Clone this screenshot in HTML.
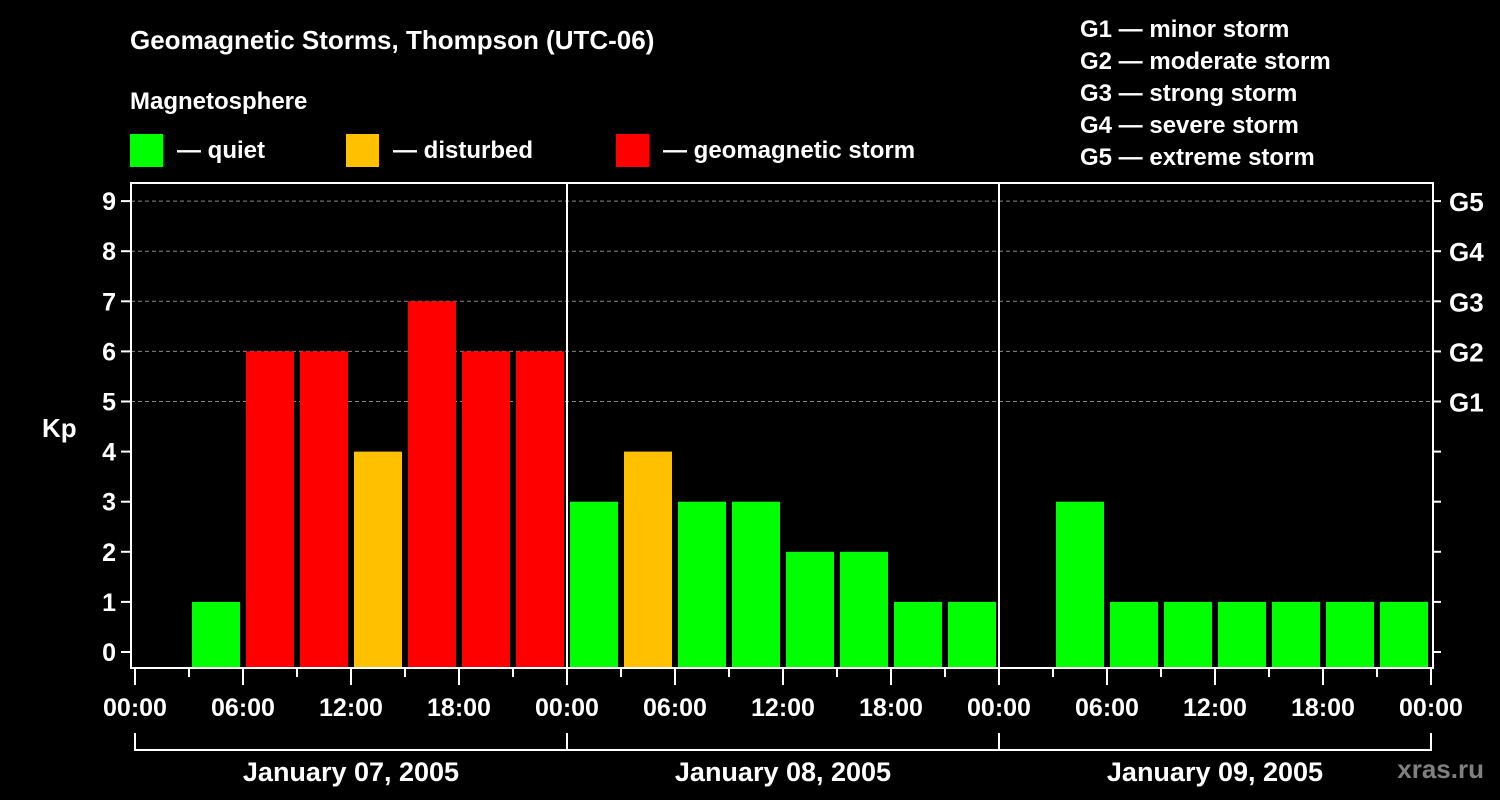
<!DOCTYPE html>
<html><head><meta charset="utf-8">
<style>
html,body{margin:0;padding:0;background:#000;width:1500px;height:800px;overflow:hidden}
svg text{font-family:"Liberation Sans",Arial,sans-serif;font-weight:bold;fill:#fff}
</style></head>
<body>
<svg id="c" width="1500" height="800" xmlns="http://www.w3.org/2000/svg">
<text x="130" y="49" font-size="26">Geomagnetic Storms, Thompson (UTC-06)</text>
<text x="130" y="109" font-size="24">Magnetosphere</text>
<rect x="130" y="134" width="33" height="33" fill="#00ff00"/>
<text x="177" y="158" font-size="24">— quiet</text>
<rect x="346" y="134" width="33" height="33" fill="#ffc000"/>
<text x="393" y="158" font-size="24">— disturbed</text>
<rect x="616" y="134" width="33" height="33" fill="#ff0000"/>
<text x="663" y="158" font-size="24">— geomagnetic storm</text>
<g font-size="24">
<text x="1080" y="37">G1 — minor storm</text>
<text x="1080" y="69">G2 — moderate storm</text>
<text x="1080" y="101">G3 — strong storm</text>
<text x="1080" y="133">G4 — severe storm</text>
<text x="1080" y="165">G5 — extreme storm</text>
</g>
<text x="42" y="437" font-size="26">Kp</text>
<text x="1484" y="778" font-size="26" fill="#808080" style="fill:#808080" text-anchor="end">xras.ru</text>
<g id="grid"></g><g id="bars"></g><g id="axes"></g>
</svg>
<script>
const days = ["January 07, 2005","January 08, 2005","January 09, 2005"];
const day1 = [0,1,6,6,4,7,6,6];
const day2 = [3,4,3,3,2,2,1,1];
const day3 = [0,3,1,1,1,1,1,1];
const yTicks = [0,1,2,3,4,5,6,7,8,9];
const gLabels = ["G1","G2","G3","G4","G5"];
const xLabels = ["00:00","06:00","12:00","18:00","00:00","06:00","12:00","18:00","00:00","06:00","12:00","18:00","00:00"];

const NS="http://www.w3.org/2000/svg";
const svg=document.getElementById('c');
const X0=135, DAYW=432, L=131, R=1433, T=183, B=668;
const xH=h=>X0+h*DAYW/24;
const yV=v=>652-v*50.1;
function mk(tag,attrs,parent){const e=document.createElementNS(NS,tag);for(const k in attrs)e.setAttribute(k,attrs[k]);parent.appendChild(e);return e;}
const grid=document.getElementById('grid'),bars=document.getElementById('bars'),axes=document.getElementById('axes');

// gridlines and y ticks
yTicks.forEach(v=>{
  const y=yV(v);
  if(v>=5){const l=mk('line',{x1:L,x2:R,y1:y,y2:y,stroke:'#888','stroke-dasharray':'4,3','stroke-width':1},grid);
    
    }
  const t=mk('line',{x1:L-10,x2:L,y1:y,y2:y,stroke:'#fff','stroke-width':2},axes);
  
  
  const tt=mk('line',{x1:R,x2:R+8,y1:y,y2:y,stroke:'#fff','stroke-width':2},axes);
  
  
  const lab=mk('text',{x:L-15,y:y+9,'font-size':25,'text-anchor':'end'},axes);
  lab.textContent=v;
  
  
});
gLabels.forEach((g,i)=>{
  const lab=mk('text',{x:R+16,y:yV(5+i)+10,'font-size':26},axes);
  lab.textContent=g;
  
  
});

// bars
[day1,day2,day3].forEach((arr,d)=>{
  arr.forEach((v,i)=>{
    if(v<=0)return;
    const h=d*24+i*3;
    const col=v>=5?'#ff0000':(v>=4?'#ffc000':'#00ff00');
    const y=yV(v);
    const r=mk('rect',{x:xH(h)+3,y:y,width:48,height:B-y,fill:col},bars);
    
    
  });
});

// frame
const fr=mk('path',{d:`M${L},${T} V${B} H${R} V${T} Z`,fill:'none',stroke:'#fff','stroke-width':2},axes);


[1,2].forEach(d=>{
  const l=mk('line',{x1:X0+d*DAYW,x2:X0+d*DAYW,y1:T,y2:B,stroke:'#fff','stroke-width':2},axes);
  
  
});
// x ticks
for(let h=0;h<=72;h+=3){
  const major=h%6===0;
  const t=mk('line',{x1:xH(h),x2:xH(h),y1:B,y2:major?685:677,stroke:'#fff','stroke-width':2},axes);
  
  
}
xLabels.forEach((s,i)=>{
  const lab=mk('text',{x:xH(i*6),y:716,'font-size':25,'text-anchor':'middle'},axes);
  lab.textContent=s;
  
  
});
// day brackets
const br=mk('path',{d:`M${X0},733 V750 H${X0+3*DAYW} V733 M${X0+DAYW},733 V750 M${X0+2*DAYW},733 V750`,fill:'none',stroke:'#fff','stroke-width':2},axes);


days.forEach((s,d)=>{
  const lab=mk('text',{x:X0+d*DAYW+DAYW/2,y:781,'font-size':27,'text-anchor':'middle'},axes);
  lab.textContent=s;
  
  
});
</script>
</body></html>
